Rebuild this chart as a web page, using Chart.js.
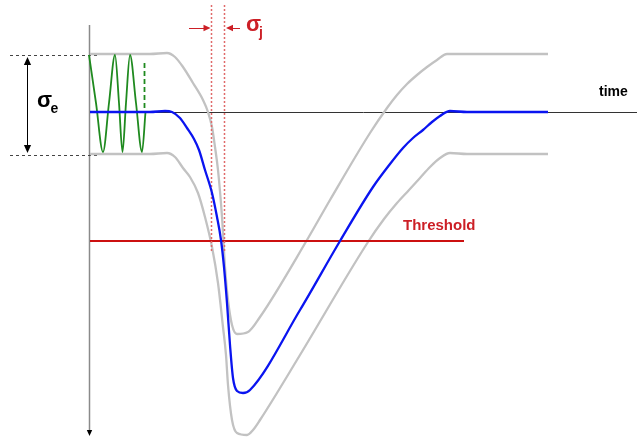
<!DOCTYPE html>
<html>
<head>
<meta charset="utf-8">
<script src="https://cdn.jsdelivr.net/npm/chart.js@4.4.0/dist/chart.umd.min.js"></script>
<style>
html, body { margin: 0; padding: 0; background: #fff; }
#wrap { width: 637px; height: 439px; }
</style>
</head>
<body>
<div id="wrap"><canvas id="c" width="637" height="439"></canvas></div>
<script>
// Kurven: [Zeit, Amplitude] (y waechst nach unten)
const pulseMean = [[90,112],[150,112],[165,111],[172,112],[180,118],[187,128],[194,139],[199,150],[205,170],[212,193],[217,217],[221,240],[224,267],[227,303],[230,345],[233,378],[237,391],[243,393],[250,390],[300,310],[340,241],[373,187],[390,164],[403,148],[413,138],[423,130],[432,122],[440,116],[450,111],[467,112],[548,112]];
const pulseUpper = [[90,54],[150,54],[167,53],[175,57],[183,67],[193,83],[203,100],[208,112],[212,127],[215,147],[218,170],[222,217],[225,267],[228,300],[232,325],[237,334],[248,332],[260,317],[307,240],[330,200],[370,133],[387,108],[397,95],[407,84],[417,75],[427,67],[437,60],[447,54],[457,54],[548,54]];
const pulseLower = [[90,154],[150,154],[167,153],[175,157],[183,168],[190,177],[198,193],[205,217],[212,247],[218,283],[223,327],[226,355],[228,385],[232,420],[237,433],[247,435],[253,430],[260,420],[300,355],[368,242],[384,219],[397,203],[409,190],[420,178],[430,167],[440,158],[450,153],[467,154],[548,154]];
const noise = [[89,55],[96,103],[103,152],[109,103],[115,55],[119,103],[122.5,152],[126,103],[130,55],[136,103],[142,152],[145.5,112]];

const baseline = 112;
const threshold = 241;
const noiseTop = 55;
const noiseBottom = 155;
const jitterLeft = 211.5;
const jitterRight = 224.5;

const RED = '#cc1f26';
const FONT = '"Liberation Sans", Arial, sans-serif';

function seg(points) {
    return points.map(p => ({ x: p[0], y: p[1] }));
}

function line(data, color, width, dash, smooth) {
    return {
        data: seg(data),
        showLine: true,
        borderColor: color,
        borderWidth: width,
        borderDash: dash || [],
        pointRadius: 0,
        cubicInterpolationMode: smooth ? 'monotone' : 'default',
        tension: 0,
        clip: false
    };
}

// Pfeilspitzen und Beschriftungen
const labelsPlugin = {
    id: 'labels',
    afterDatasetsDraw(chart) {
        const ctx = chart.ctx;
        const xs = chart.scales.x, ys = chart.scales.y;
        const px = v => xs.getPixelForValue(v);
        const py = v => ys.getPixelForValue(v);

        function head(x, y, dx, dy, color, size) {
            const len = Math.hypot(dx, dy);
            const ux = dx / len, uy = dy / len;
            ctx.save();
            ctx.fillStyle = color;
            ctx.beginPath();
            ctx.moveTo(px(x), py(y));
            ctx.lineTo(px(x) - ux * size - uy * size * 0.45, py(y) - uy * size + ux * size * 0.45);
            ctx.lineTo(px(x) - ux * size + uy * size * 0.45, py(y) - uy * size - ux * size * 0.45);
            ctx.closePath();
            ctx.fill();
            ctx.restore();
        }

        head(89.5, 436, 0, 1, '#000', 6);
        head(27.5, noiseTop + 2, 0, -1, '#000', 8);
        head(27.5, noiseBottom - 2, 0, 1, '#000', 8);
        head(jitterLeft - 1, 28, 1, 0, RED, 7);
        head(jitterRight + 1.5, 28, -1, 0, RED, 7);

        ctx.save();
        ctx.textBaseline = 'middle';
        ctx.textAlign = 'left';
        ctx.fillStyle = '#000';
        ctx.font = 'bold 22px ' + FONT;
        ctx.fillText('σ', px(37), py(101));
        ctx.font = 'bold 14px ' + FONT;
        ctx.fillText('e', px(50.5), py(109));
        ctx.fillText('time', px(599), py(92));

        ctx.fillStyle = RED;
        ctx.font = 'bold 22px ' + FONT;
        ctx.fillText('σ', px(246), py(25));
        ctx.font = 'bold 14px ' + FONT;
        ctx.fillText('j', px(259), py(33));
        ctx.font = 'bold 15px ' + FONT;
        ctx.fillText('Threshold', px(403), py(226));
        ctx.restore();
    }
};

// Chart.js zeichnet den ersten Datensatz zuoberst
new Chart(document.getElementById('c'), {
    type: 'scatter',
    data: {
        datasets: [
            line(pulseMean, '#0a14f0', 2.3, null, true),
            line(noise, '#1f8a1f', 1.8, null, true),
            line([[144.5, 63], [144.5, baseline]], '#1f8a1f', 1.8, [5, 3]),
            line([[jitterLeft, 5], [jitterLeft, 253]], '#e06a6a', 1.5, [2, 2]),
            line([[jitterRight, 5], [jitterRight, 253]], '#e06a6a', 1.5, [2, 2]),
            line([[189, 28.5], [jitterLeft - 5, 28.5]], RED, 1),
            line([[240, 28.5], [jitterRight + 6, 28.5]], RED, 1),
            line([[90, threshold], [464, threshold]], '#cc1010', 2),
            line(pulseUpper, '#c2c2c2', 2.3, null, true),
            line(pulseLower, '#c2c2c2', 2.3, null, true),
            line([[90, baseline + 0.5], [637, baseline + 0.5]], '#333', 1),
            line([[10, noiseTop + 0.5], [100, noiseTop + 0.5]], '#444', 1, [3, 3]),
            line([[10, noiseBottom + 0.5], [100, noiseBottom + 0.5]], '#444', 1, [3, 3]),
            line([[27.5, noiseTop + 6], [27.5, noiseBottom - 6]], '#000', 1),
            line([[89.5, 25], [89.5, 431]], '#8a8a8a', 1.5)
        ]
    },
    options: {
        responsive: false,
        animation: false,
        events: [],
        layout: { padding: 0 },
        plugins: { legend: { display: false }, tooltip: { enabled: false } },
        scales: {
            x: { type: 'linear', display: false, min: 0, max: 637 },
            y: { type: 'linear', display: false, min: 0, max: 439, reverse: true }
        }
    },
    plugins: [labelsPlugin]
});
</script>
</body>
</html>
